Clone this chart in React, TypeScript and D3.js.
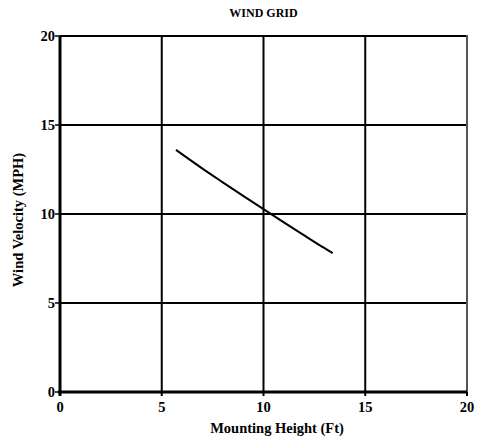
import * as d3 from "d3";
import { useEffect, useRef } from "react";

// mounting height (ft) vs wind velocity (mph)
const heights = [5.7, 7, 8, 9, 10, 11, 12, 13, 13.4];
const velocities = [13.6, 12.55, 11.78, 11.02, 10.27, 9.53, 8.8, 8.08, 7.8];
const xTicks = [0, 5, 10, 15, 20];
const yTicks = [0, 5, 10, 15, 20];

const W = 481;
const H = 438;
const FONT = "'Liberation Serif', 'Times New Roman', serif";

export default function App() {
  const svgRef = useRef<SVGSVGElement | null>(null);

  useEffect(() => {
    if (!svgRef.current) return;
    const svg = d3.select(svgRef.current);
    svg.selectAll("*").remove();

    const x = d3.scaleLinear().domain([0, 20]).range([60, 467]);
    const y = d3.scaleLinear().domain([0, 20]).range([392, 36]);

    // grid
    const grid = svg.append("g");
    xTicks.slice(1, -1).forEach((t) => {
      grid
        .append("line")
        .attr("x1", x(t))
        .attr("x2", x(t))
        .attr("y1", y(0))
        .attr("y2", y(20))
        .attr("stroke", "#000")
        .attr("stroke-width", 2);
    });
    yTicks.slice(1, -1).forEach((t) => {
      grid
        .append("line")
        .attr("x1", x(0))
        .attr("x2", x(20))
        .attr("y1", y(t))
        .attr("y2", y(t))
        .attr("stroke", "#000")
        .attr("stroke-width", 2);
    });

    // frame
    svg
      .append("line")
      .attr("x1", x(0))
      .attr("x2", x(20))
      .attr("y1", y(20))
      .attr("y2", y(20))
      .attr("stroke", "#000")
      .attr("stroke-width", 2);
    svg
      .append("line")
      .attr("x1", x(20))
      .attr("x2", x(20))
      .attr("y1", y(20) - 1)
      .attr("y2", y(0))
      .attr("stroke", "#555")
      .attr("stroke-width", 2);

    // axes
    const xAxis = svg.append("g").attr("transform", `translate(0,${y(0)})`);
    xAxis
      .append("line")
      .attr("x1", x(0) - 2)
      .attr("x2", x(20))
      .attr("stroke", "#000")
      .attr("stroke-width", 3);
    xTicks.forEach((t) => {
      xAxis
        .append("line")
        .attr("x1", x(t))
        .attr("x2", x(t))
        .attr("y1", 0)
        .attr("y2", 4)
        .attr("stroke", "#000")
        .attr("stroke-width", 2);
      xAxis
        .append("text")
        .attr("x", x(t))
        .attr("y", 20)
        .attr("text-anchor", "middle")
        .attr("font-family", FONT)
        .attr("font-weight", "bold")
        .attr("font-size", 14.5)
        .text(t);
    });

    const yAxis = svg.append("g").attr("transform", `translate(${x(0)},0)`);
    yAxis
      .append("line")
      .attr("y1", y(0) + 4)
      .attr("y2", y(20))
      .attr("stroke", "#000")
      .attr("stroke-width", 3);
    yTicks.forEach((t) => {
      yAxis
        .append("line")
        .attr("x1", -5)
        .attr("x2", 0)
        .attr("y1", y(t))
        .attr("y2", y(t))
        .attr("stroke", "#000")
        .attr("stroke-width", 1.5);
      yAxis
        .append("text")
        .attr("x", -5)
        .attr("y", y(t))
        .attr("dy", "0.35em")
        .attr("text-anchor", "end")
        .attr("font-family", FONT)
        .attr("font-weight", "bold")
        .attr("font-size", 14.5)
        .text(t);
    });

    // curve
    const line = d3
      .line<number>()
      .x((d, i) => x(heights[i]))
      .y((d) => y(d))
      .curve(d3.curveMonotoneX);
    svg
      .append("path")
      .attr("d", line(velocities))
      .attr("fill", "none")
      .attr("stroke", "#000")
      .attr("stroke-width", 2);

    // titles
    svg
      .append("text")
      .attr("x", x(10))
      .attr("y", 17)
      .attr("text-anchor", "middle")
      .attr("font-family", FONT)
      .attr("font-weight", "bold")
      .attr("font-size", 12)
      .text("WIND GRID");
    svg
      .append("text")
      .attr("x", 277)
      .attr("y", 433)
      .attr("text-anchor", "middle")
      .attr("font-family", FONT)
      .attr("font-weight", "bold")
      .attr("font-size", 14.5)
      .text("Mounting Height (Ft)");
    svg
      .append("text")
      .attr("transform", `translate(23,220) rotate(-90)`)
      .attr("text-anchor", "middle")
      .attr("font-family", FONT)
      .attr("font-weight", "bold")
      .attr("font-size", 14.5)
      .text("Wind Velocity (MPH)");
  }, []);

  return (
    <div style={{ position: "absolute", left: 0, top: 0, width: W, height: H, background: "#fff" }}>
      <svg ref={svgRef} width={W} height={H}></svg>
    </div>
  );
}
